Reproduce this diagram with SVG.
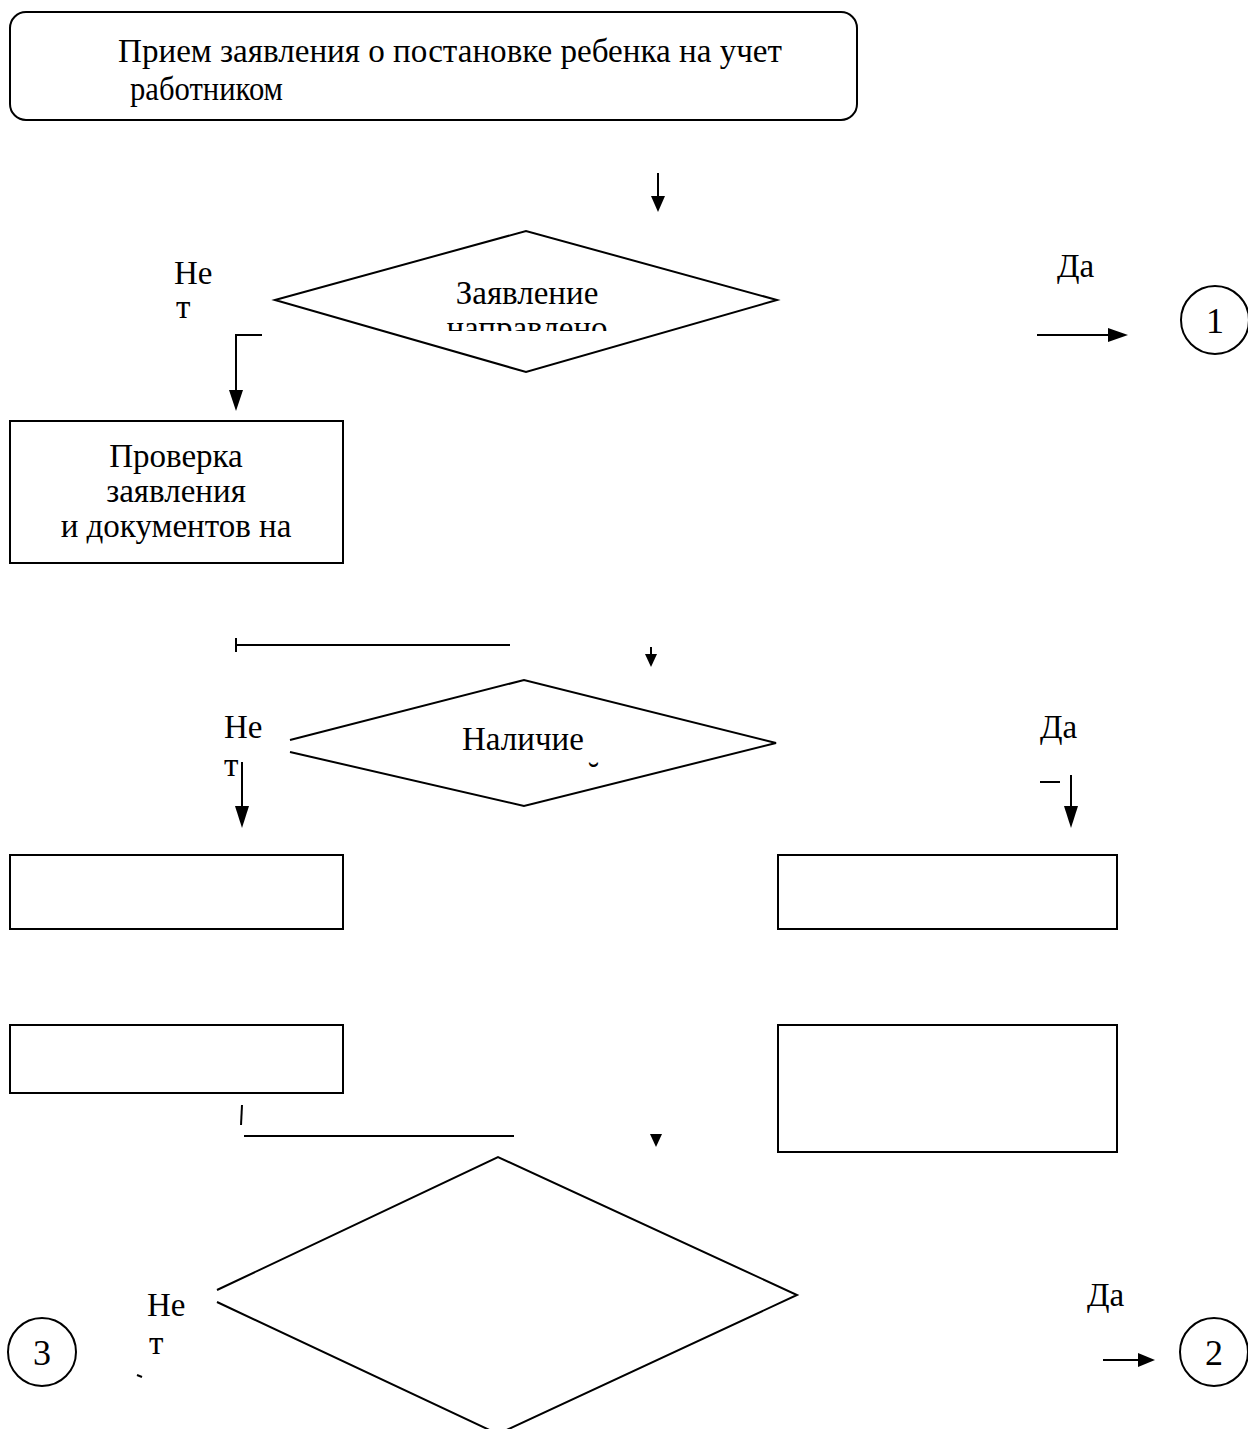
<svg xmlns="http://www.w3.org/2000/svg" width="1248" height="1429" viewBox="0 0 1248 1429">
<style>
.s{fill:none;stroke:#000;stroke-width:2}
.b{fill:#fff;stroke:#000;stroke-width:2}
.t{font-family:"Liberation Serif","Times New Roman",serif;font-size:33px;fill:#000}
.n{font-size:36px}
.c{text-anchor:middle}
.ln{stroke:#000;stroke-width:2;fill:none}
</style>
<defs>
<clipPath id="cp1"><rect x="420" y="300" width="220" height="31"/></clipPath>
</defs>
<rect width="1248" height="1429" fill="#fff"/>

<g id="connectors">
<line class="ln" x1="658" y1="173" x2="658" y2="198"/>
<path d="M651,196 L665,196 L658,212 z"/>
<path class="ln" d="M262,335 L236,335 L236,392"/>
<path d="M229,390 L243,390 L236,411 z"/>
<line class="ln" x1="1037" y1="335" x2="1110" y2="335"/>
<path d="M1108,328 L1128,335 L1108,342 z"/>
<line class="ln" x1="236" y1="645" x2="510" y2="645"/>
<line class="ln" x1="236" y1="638" x2="236" y2="652"/>
<line class="ln" x1="651" y1="647" x2="651" y2="655"/>
<path d="M645,654 L657,654 L651,667 z"/>
<line class="ln" x1="242" y1="762" x2="242" y2="808"/>
<path d="M235,806 L249,806 L242,828 z"/>
<line class="ln" x1="1040" y1="782" x2="1060" y2="782"/>
<line class="ln" x1="1071" y1="775" x2="1071" y2="808"/>
<path d="M1064,806 L1078,806 L1071,828 z"/>
<line class="ln" x1="240" y1="886" x2="240" y2="891"/>
<path d="M234,890 L246,890 L240,903 z"/>
<line class="ln" x1="1066" y1="886" x2="1066" y2="891"/>
<path d="M1060,890 L1072,890 L1066,903 z"/>
<line class="ln" x1="242" y1="1105" x2="241" y2="1125"/>
<line class="ln" x1="244" y1="1136" x2="514" y2="1136"/>
<path d="M650,1134 L662,1134 L656,1147 z"/>
<line class="ln" x1="137" y1="1375" x2="142" y2="1377"/>
<line class="ln" x1="1103" y1="1360" x2="1140" y2="1360"/>
<path d="M1138,1353 L1155,1360 L1138,1367 z"/>
</g>

<g id="n-start">
<rect class="b" x="10" y="12" width="847" height="108" rx="16" ry="16"/>
<text class="t" x="118" y="62" textLength="664" lengthAdjust="spacingAndGlyphs">Прием заявления о постановке ребенка на учет</text>
<text class="t" x="130" y="100" textLength="153" lengthAdjust="spacingAndGlyphs">работником</text>
</g>

<g id="n-dec1">
<polygon class="b" points="275,300 526,231 777,300 526,372"/>
<text class="t c" x="527" y="304">Заявление</text>
<text class="t c" x="527" y="339" clip-path="url(#cp1)">направлено</text>
<text class="t" x="174" y="284">Не</text>
<text class="t" x="176" y="318">т</text>
<text class="t" x="1057" y="277">Да</text>
</g>

<g id="n-c1">
<circle class="b" cx="1215" cy="320" r="34"/>
<text class="t n c" x="1215" y="333">1</text>
</g>

<g id="n-check">
<rect class="b" x="10" y="421" width="333" height="142"/>
<text class="t c" x="176" y="467">Проверка</text>
<text class="t c" x="176" y="502">заявления</text>
<text class="t c" x="176" y="537">и документов на</text>
</g>

<g id="n-dec2">
<polyline class="s" points="290,740 524,680 776,743 524,806 290,752"/>
<text class="t" x="462" y="750">Наличие</text>
<text class="t" x="588" y="786">˘</text>
<text class="t" x="224" y="738">Не</text>
<text class="t" x="224" y="776">т</text>
<text class="t" x="1040" y="738">Да</text>
</g>

<g id="n-l1"><rect class="b" x="10" y="855" width="333" height="74"/></g>
<g id="n-r1"><rect class="b" x="778" y="855" width="339" height="74"/></g>
<g id="n-l2"><rect class="b" x="10" y="1025" width="333" height="68"/></g>
<g id="n-r2"><rect class="b" x="778" y="1025" width="339" height="127"/></g>

<g id="n-dec3">
<polyline class="s" points="217,1290 498,1157 797,1295 498,1434 217,1302"/>
<text class="t" x="147" y="1316">Не</text>
<text class="t" x="149" y="1354">т</text>
<text class="t" x="1087" y="1306">Да</text>
</g>

<g id="n-c3">
<circle class="b" cx="42" cy="1352" r="34"/>
<text class="t n c" x="42" y="1365">3</text>
</g>

<g id="n-c2">
<circle class="b" cx="1214" cy="1352" r="34"/>
<text class="t n c" x="1214" y="1365">2</text>
</g>
</svg>
